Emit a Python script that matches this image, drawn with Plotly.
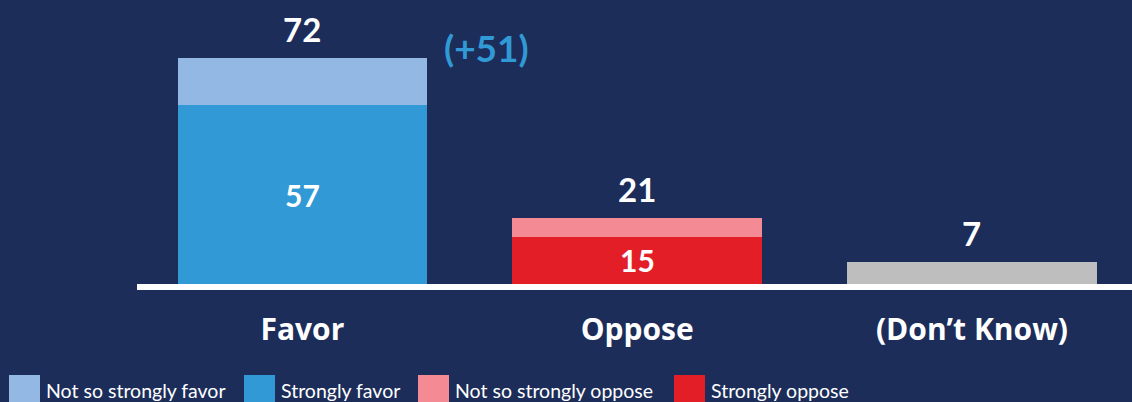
import plotly.graph_objects as go

# Survey results: favor / oppose / don't know
categories = ["Favor", "Oppose", "(Don\u2019t Know)"]
strong_values = [57, 15, 7]          # strongly favor / strongly oppose / don't know
not_so_values = [15, 6, 0]           # not so strongly favor / oppose
totals = [72, 21, 7]

legend_labels = ["Not so strongly favor", "Strongly favor",
                 "Not so strongly oppose", "Strongly oppose"]

BG = "#1c2d5a"
LIGHT_BLUE = "#93b8e3"
BLUE = "#3199d5"
LIGHT_RED = "#f48a93"
RED = "#e31e26"
GRAY = "#bebebe"

W, H = 1132, 402
ML, MR, MT, MB = 137, 0, 10, 118
PLOT_W = W - ML - MR
PLOT_H = H - MT - MB
PX_PER_UNIT = 3.139

strong_colors = [BLUE, RED, GRAY]
light_colors = [LIGHT_BLUE, LIGHT_RED, GRAY]

fig = go.Figure()
fig.add_trace(go.Bar(x=list(range(3)), y=strong_values, marker_color=strong_colors,
                     marker_line_width=0, width=0.746, showlegend=False,
                     hoverinfo="skip"))
fig.add_trace(go.Bar(x=list(range(3)), y=not_so_values, marker_color=light_colors,
                     marker_line_width=0, width=0.746, showlegend=False,
                     hoverinfo="skip"))

bold = dict(family="Lato", color="white", weight="bold")

# totals above each bar
for i, t in enumerate(totals):
    fig.add_annotation(x=i, y=t, text=str(t), showarrow=False, yanchor="middle",
                       yshift=29, font=dict(bold, size=33))

# strong segment labels inside the stacked bars
for i in range(2):
    fig.add_annotation(x=i, y=strong_values[i] / 2, text=str(strong_values[i]),
                       showarrow=False, yanchor="middle",
                       font=dict(bold, size=30))

# net margin next to the favor bar
fig.add_annotation(x=0.55, y=totals[0], text=f"(+{totals[0] - totals[1]})",
                   showarrow=False, yanchor="middle", yshift=10,
                   font=dict(family="Lato", color=BLUE, weight="bold", size=37))


def paper_x(px):
    return (px - ML) / PLOT_W


def paper_y(py):
    return (H - MB - py) / PLOT_H


# custom legend row along the bottom
legend_items = [
    (9, LIGHT_BLUE, legend_labels[0]),
    (244, BLUE, legend_labels[1]),
    (418, LIGHT_RED, legend_labels[2]),
    (674, RED, legend_labels[3]),
]
for px, color, label in legend_items:
    fig.add_shape(type="rect", xref="paper", yref="paper",
                  x0=paper_x(px), x1=paper_x(px + 31),
                  y0=paper_y(375), y1=paper_y(406),
                  fillcolor=color, line_width=0, layer="above")
    fig.add_annotation(xref="paper", yref="paper", x=paper_x(px + 35),
                       y=paper_y(390), text=label, showarrow=False,
                       xanchor="left", yanchor="middle",
                       font=dict(family="Lato", color="white", size=19.5))

fig.update_layout(
    width=W, height=H,
    margin=dict(l=ML, r=MR, t=MT, b=MB, pad=0),
    paper_bgcolor=BG, plot_bgcolor=BG,
    barmode="stack", bargap=0,
    showlegend=False,
    xaxis=dict(range=[-0.494, 2.478], tickvals=list(range(3)), ticktext=categories,
               showgrid=False, zeroline=False, showline=True, linecolor="white",
               linewidth=6, ticks="", ticklabelstandoff=14,
               tickfont=dict(family="Open Sans", color="white", size=30, weight="bold"),
               fixedrange=True),
    yaxis=dict(range=[0, PLOT_H / PX_PER_UNIT], visible=False, fixedrange=True),
)

fig.write_html("out.html", config={"displayModeBar": False})
